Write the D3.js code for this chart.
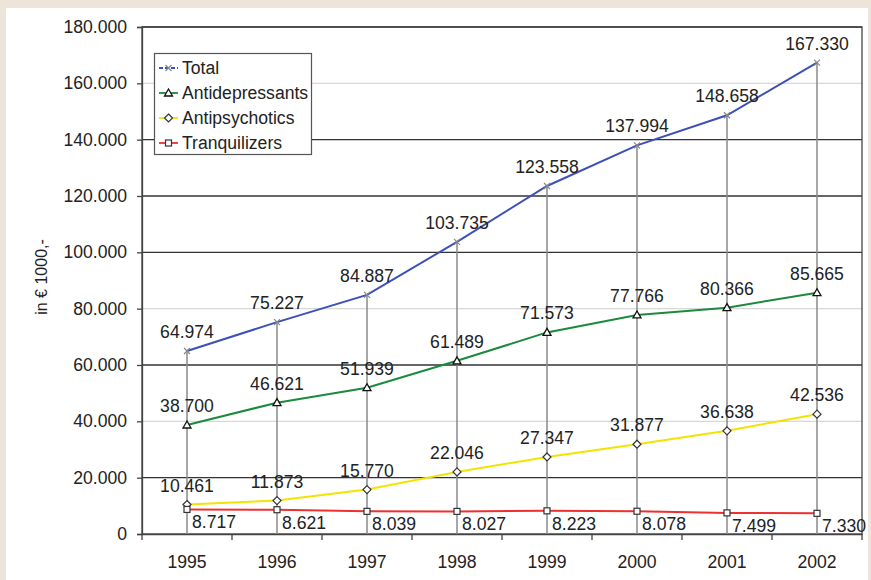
<!DOCTYPE html>
<html><head><meta charset="utf-8">
<script src="https://cdn.jsdelivr.net/npm/d3@7"></script>
<style>
html,body{margin:0;padding:0;background:#ede4da;}
svg{display:block;font-family:"Liberation Sans",Arial,sans-serif;}
</style></head>
<body><svg id="c" width="871" height="580"></svg>
<script>
const years = ["1995","1996","1997","1998","1999","2000","2001","2002"];
const total = [64974, 75227, 84887, 103735, 123558, 137994, 148658, 167330];
const antidepressants = [38700, 46621, 51939, 61489, 71573, 77766, 80366, 85665];
const antipsychotics = [10461, 11873, 15770, 22046, 27347, 31877, 36638, 42536];
const tranquilizers = [8717, 8621, 8039, 8027, 8223, 8078, 7499, 7330];
const yTicks = [0,20000,40000,60000,80000,100000,120000,140000,160000,180000];
const seriesNames = ["Total","Antidepressants","Antipsychotics","Tranquilizers"];

const FS = 17.6;
const svg = d3.select("#c");
svg.append("rect").attr("x",6).attr("y",8).attr("width",862).attr("height",580).attr("fill","#fff");

const L=142,R=862,T=27,B=534;
const x = d3.scaleBand().domain(years).range([L,R]);
const y = d3.scaleLinear().domain([0,180000]).range([B,T]);
const fmt = v => v===0 ? "0" : d3.format(",")(v).replace(/,/g,".");
const cx = d => x(d)+x.bandwidth()/2;

// gridlines
const light = new Set([160000,80000,40000]);
svg.append("g").selectAll("line").data(yTicks.filter(v=>v>0)).join("line")
  .attr("x1",L).attr("x2",R).attr("y1",d=>y(d)).attr("y2",d=>y(d))
  .attr("stroke",d=>light.has(d)?"#d8d8d8":"#333").attr("stroke-width",1.3);

// plot frame
svg.append("rect").attr("x",L).attr("y",T).attr("width",R-L).attr("height",B-T)
  .attr("fill","none").attr("stroke","#444").attr("stroke-width",1.3);

// y axis
const ya = svg.append("g").attr("transform",`translate(${L},0)`)
  .call(d3.axisLeft(y).tickValues(yTicks).tickFormat(fmt).tickSize(5).tickPadding(10));
ya.select(".domain").attr("stroke","#444").attr("stroke-width",1.3);
ya.selectAll(".tick line").attr("stroke","#444").attr("stroke-width",1.3);
ya.selectAll("text").attr("font-size",FS).attr("fill","#222").attr("font-family","Liberation Sans, Arial, sans-serif");

// x axis
const xa = svg.append("g").attr("transform",`translate(0,${B})`)
  .call(d3.axisBottom(x).tickSize(0).tickPadding(22));
xa.select(".domain").attr("stroke","#444").attr("stroke-width",1.3);
xa.selectAll("text").attr("font-size",FS).attr("fill","#222").attr("font-family","Liberation Sans, Arial, sans-serif");
// category separator ticks
svg.append("g").selectAll("line").data(d3.range(years.length+1)).join("line")
  .attr("x1",i=>L+i*x.bandwidth()).attr("x2",i=>L+i*x.bandwidth())
  .attr("y1",B).attr("y2",B+6).attr("stroke","#444").attr("stroke-width",1.3);

// y label
svg.append("text").attr("transform","translate(47,277) rotate(-90)")
  .attr("text-anchor","middle").attr("font-size",16).attr("fill","#222").text("in € 1000,-");

// drop lines
svg.append("g").selectAll("line").data(years).join("line")
  .attr("x1",d=>cx(d)).attr("x2",d=>cx(d)).attr("y1",(d,i)=>y(total[i])).attr("y2",B)
  .attr("stroke","#8a8a8a").attr("stroke-width",1.5);

const series = [
  {name:"Total", vals: total, color:"#3d4fb8", marker:"x"},
  {name:"Antidepressants", vals: antidepressants, color:"#1b8a3c", marker:"tri"},
  {name:"Antipsychotics", vals: antipsychotics, color:"#f2e400", marker:"dia"},
  {name:"Tranquilizers", vals: tranquilizers, color:"#ee3030", marker:"sq"}
];
const line = d3.line().x((d,i)=>cx(years[i])).y(d=>y(d));

function marker(g, type, px, py){
  if(type==="x"){
    g.append("path").attr("d",`M${px-3},${py-3}L${px+3},${py+3}M${px-3},${py+3}L${px+3},${py-3}`)
      .attr("stroke","#888").attr("stroke-width",1.2);
  } else if(type==="tri"){
    g.append("path").attr("d",`M${px},${py-4}L${px+4},${py+3}L${px-4},${py+3}Z`)
      .attr("fill","#fff").attr("stroke","#111").attr("stroke-width",1.3);
  } else if(type==="dia"){
    g.append("path").attr("d",`M${px},${py-4}L${px+4},${py}L${px},${py+4}L${px-4},${py}Z`)
      .attr("fill","#fff").attr("stroke","#333").attr("stroke-width",1.2);
  } else {
    g.append("rect").attr("x",px-3).attr("y",py-3).attr("width",6).attr("height",6)
      .attr("fill","#fff").attr("stroke","#333").attr("stroke-width",1.2);
  }
}

series.forEach(s=>{
  svg.append("path").datum(s.vals).attr("d",line).attr("fill","none")
    .attr("stroke",s.color).attr("stroke-width",2);
});
series.forEach(s=>{
  const g = svg.append("g");
  s.vals.forEach((v,i)=>marker(g,s.marker,cx(years[i]),y(v)));
});
// labels
series.forEach(s=>{
  const below = s.name==="Tranquilizers";
  svg.append("g").selectAll("text").data(s.vals).join("text")
    .attr("x",(d,i)=>cx(years[i]) + (below?5:0))
    .attr("y",d=>y(d) + (below?19:-13))
    .attr("text-anchor",below?"start":"middle")
    .attr("font-size",FS).attr("fill","#222").text(fmt);
});

// legend
const lg = svg.append("g");
lg.append("rect").attr("x",154.5).attr("y",53.5).attr("width",157).attr("height",101)
  .attr("fill","#fff").attr("stroke","#555").attr("stroke-width",1.2);
series.forEach((s,i)=>{
  const yy = 68 + i*25;
  lg.append("line").attr("x1",159).attr("x2",178).attr("y1",yy).attr("y2",yy)
    .attr("stroke",s.color).attr("stroke-width",1.8)
    .attr("stroke-dasharray", s.name==="Total" ? "4,2" : null);
  marker(lg, s.marker, 168.5, yy);
  lg.append("text").attr("x",182).attr("y",yy+6).attr("font-size",FS).attr("fill","#222").text(s.name);
});
</script></body></html>
